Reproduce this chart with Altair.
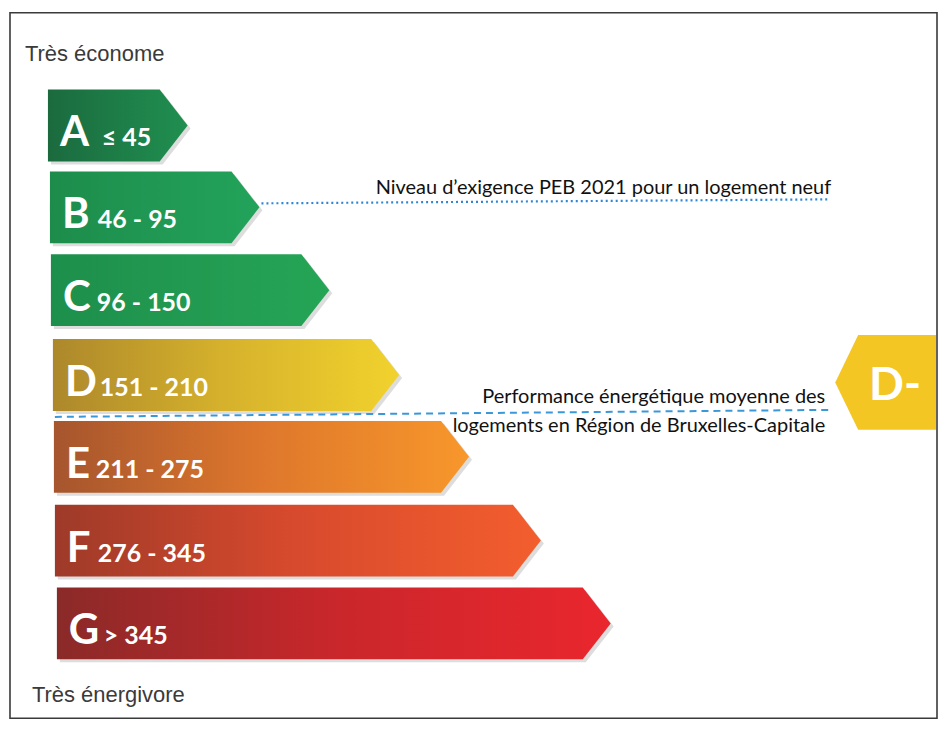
import altair as alt
import pandas as pd

# ---------------- data ----------------
grades = ["A", "B", "C", "D", "E", "F", "G"]
ranges = ["≤ 45", "46 - 95", "96 - 150", "151 - 210", "211 - 275", "276 - 345", "> 345"]
tips = [188, 260, 330, 400, 470, 542, 612]          # arrow tip (bar length)
left_colors = ["#1b6a3e", "#1d8c4b", "#1d8f4c", "#ad882b", "#a6552e", "#9e3a29", "#8a2a28"]
mid_colors = ["#1d7d47", "#209854", "#229a51", "#d6b22c", "#de772c", "#d84a2d", "#c9272b"]
right_colors = ["#208f50", "#22a35a", "#25a556", "#f1d22d", "#f8972b", "#f35e2e", "#ea262e"]

top_label = "Très économe"
bottom_label = "Très énergivore"
peb_label = "Niveau d’exigence PEB 2021 pour un logement neuf"
avg_label_1 = "Performance énergétique moyenne des"
avg_label_2 = "logements en Région de Bruxelles-Capitale"
avg_grade = "D-"

# ---------------- layout ----------------
W, H = 932, 712
OX, OY = 8, 8
bar_lefts = [48, 50, 51, 53, 54, 55, 57]
bar_tops = [89, 171, 254, 339, 421, 505, 588]
BAR_H = 72
ARROW = 28
letter_adv = {"A": 42, "B": 36, "C": 34, "D": 35, "E": 30, "F": 31, "G": 35}

xs = alt.Scale(domain=[OX, OX + W], nice=False, zero=False)
ys = alt.Scale(domain=[OY, OY + H], nice=False, zero=False, reverse=True)


def X(f="x"):
    return alt.X(f"{f}:Q", scale=xs, axis=None)


def Y(f="y"):
    return alt.Y(f"{f}:Q", scale=ys, axis=None)


layers = []

# frame
frame = pd.DataFrame({"x": [10], "x2": [939], "y": [12], "y2": [719]})
layers.append(
    alt.Chart(frame).mark_rect(fill="white", stroke="#3a3a3a", strokeWidth=1.6)
    .encode(x=X(), x2="x2:Q", y=Y(), y2="y2:Q")
)

# bars
for i, g in enumerate(grades):
    left, top, tip = bar_lefts[i], bar_tops[i], tips[i]
    bottom = top + BAR_H
    center = top + BAR_H / 2
    body = tip - ARROW
    shp = pd.DataFrame({
        "x": [left, body, tip],
        "y": [top, top, center],
        "y2": [bottom, bottom, center],
    })
    sh = shp.copy()
    sh["x"] = sh["x"] + 3
    sh["y"] = sh["y"] + 3
    sh["y2"] = sh["y2"] + 3
    layers.append(
        alt.Chart(sh).mark_area(color="#666666", opacity=0.22, interpolate="linear")
        .encode(x=X(), y=Y(), y2="y2:Q")
    )
    grad = alt.Gradient(
        gradient="linear",
        stops=[
            alt.GradientStop(color=left_colors[i], offset=0),
            alt.GradientStop(color=mid_colors[i], offset=0.5),
            alt.GradientStop(color=right_colors[i], offset=1),
        ],
        x1=0, x2=1, y1=0, y2=0,
    )
    layers.append(
        alt.Chart(shp).mark_area(color=grad, interpolate="linear")
        .encode(x=X(), y=Y(), y2="y2:Q")
    )

# letters and ranges
lab = pd.DataFrame({
    "g": grades,
    "r": ranges,
    "x": [l + 12 for l in bar_lefts],
    "xr": [l + 12 + letter_adv[g] for l, g in zip(bar_lefts, grades)],
    "y": [t + BAR_H - 15 for t in bar_tops],
})
layers.append(
    alt.Chart(lab).mark_text(align="left", baseline="alphabetic", font="Lato",
                             fontWeight="bold", fontSize=42, color="white")
    .encode(x=X(), y=Y(), text="g:N")
)
layers.append(
    alt.Chart(lab).mark_text(align="left", baseline="alphabetic", font="Lato",
                             fontWeight="bold", fontSize=25, color="white")
    .encode(x=X("xr"), y=Y(), text="r:N")
)

# side labels
side = pd.DataFrame({"t": [top_label, bottom_label], "x": [25, 32], "y": [60, 703]})
layers.append(
    alt.Chart(side).mark_text(align="left", baseline="alphabetic", font="Liberation Sans",
                              fontSize=22, color="#3a3a3a")
    .encode(x=X(), y=Y(), text="t:N")
)

# PEB dotted line
dot = pd.DataFrame({"x": [262, 830], "y": [203, 199]})
layers.append(
    alt.Chart(dot).mark_line(color="#2f86d6", strokeWidth=2.2, strokeDash=[2, 3])
    .encode(x=X(), y=Y())
)
# average dashed line
dash = pd.DataFrame({"x": [55, 830], "y": [417, 410]})
layers.append(
    alt.Chart(dash).mark_line(color="#3b98d8", strokeWidth=2, strokeDash=[7, 5])
    .encode(x=X(), y=Y())
)

ann = pd.DataFrame({
    "t": [peb_label, avg_label_1, avg_label_2],
    "x": [833, 827, 827],
    "y": [194, 403, 432],
})
layers.append(
    alt.Chart(ann).mark_text(align="right", baseline="alphabetic", font="Lato",
                             fontSize=20, color="#111111")
    .encode(x=X(), y=Y(), text="t:N")
)

# average grade marker (left-pointing arrow)
mk = pd.DataFrame({"x": [837, 860, 938], "y": [382.5, 335, 335], "y2": [382.5, 430, 430]})
layers.append(
    alt.Chart(mk).mark_area(color="#f4c623", interpolate="linear")
    .encode(x=X(), y=Y(), y2="y2:Q")
)
mkt = pd.DataFrame({"t": [avg_grade], "x": [897], "y": [400]})
layers.append(
    alt.Chart(mkt).mark_text(align="center", baseline="alphabetic", font="Lato",
                             fontWeight="bold", fontSize=46, color="white")
    .encode(x=X(), y=Y(), text="t:N")
)

chart = (
    alt.layer(*layers)
    .properties(width=W, height=H, padding=0, autosize=alt.AutoSizeParams(type="none"))
    .configure_view(stroke=None)
)

chart.save("out.html", embed_options={"renderer": "svg", "actions": False})
